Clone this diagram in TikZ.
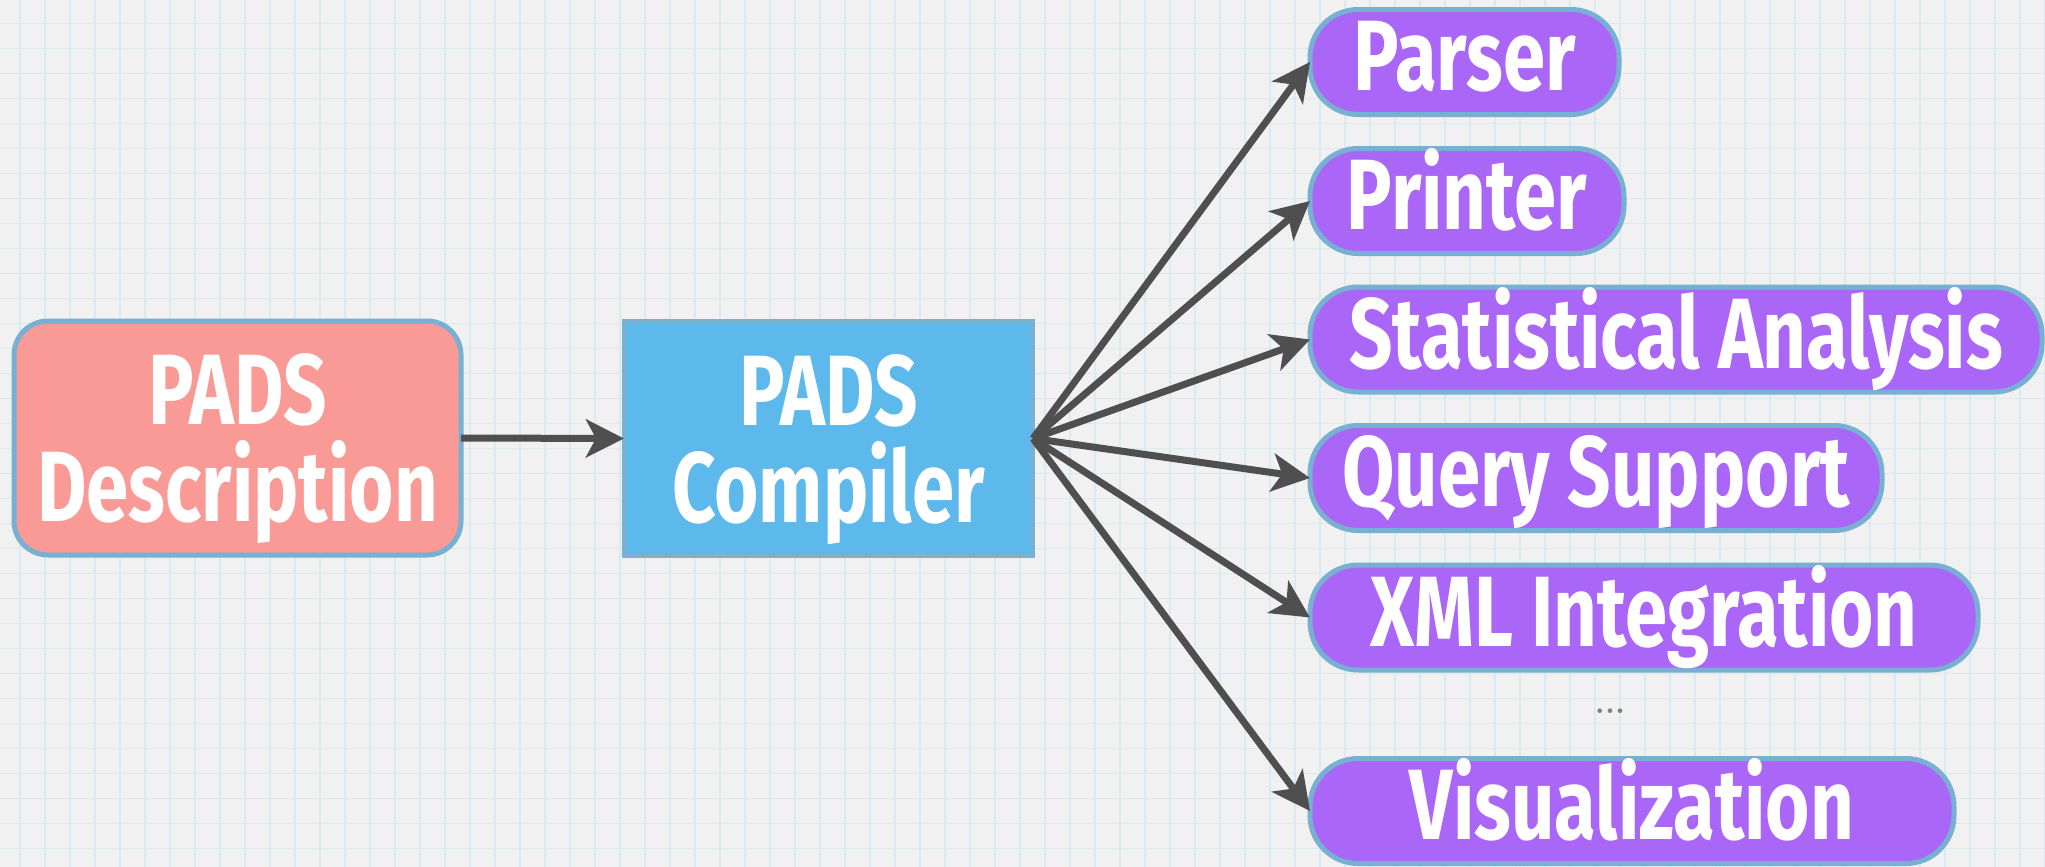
\documentclass[tikz,border=0pt]{standalone}
\usepackage{fontspec}
\usetikzlibrary{arrows.meta}
\newfontfamily\handfont[FakeStretch=0.76]{Fira Sans}
\definecolor{bgcol}{HTML}{F1F1F1}
\definecolor{gridcol}{HTML}{D9EAF0}
\definecolor{pinkfill}{HTML}{F99A96}
\definecolor{bluefill}{HTML}{5DB9EC}
\definecolor{purplefill}{HTML}{A966F7}
\definecolor{edgeblue}{HTML}{78B0D3}
\definecolor{edgeblue2}{HTML}{7BB0CF}
\definecolor{arrowcol}{HTML}{4F4F4F}
\definecolor{dotcol}{HTML}{808080}
\tikzset{
  lbl/.style={text=white, font=\handfont\bfseries\fontsize{50pt}{48.5pt}\selectfont, align=center, inner sep=0pt, outer sep=0pt},
  descbox/.style={lbl, draw=edgeblue, fill=pinkfill, line width=2.5pt, rounded corners=17pt},
  compbox/.style={lbl, draw=edgeblue2, fill=bluefill, line width=2pt},
  toolbox/.style={lbl, draw=edgeblue, fill=purplefill, line width=2.5pt, rounded corners=24pt, minimum height=52.5pt, text height=36pt, text depth=7.5pt},
  conn/.style={draw=arrowcol, line width=3.5pt, -{Stealth[length=19pt, width=19pt, inset=5pt]}}
}
\begin{document}
\begin{tikzpicture}[x=0.5pt, y=-0.5pt]
\useasboundingbox (0,0) rectangle (2045,867);
\fill[bgcol] (0,0) rectangle (2045,867);
\begin{scope}[gridcol, line width=0.9pt]
\foreach \gx in {20,45,...,2045} \draw (\gx,0) -- (\gx,867);
\foreach \gy in {23.5,48.5,...,867} \draw (0,\gy) -- (2045,\gy);
\end{scope}

\node[descbox, minimum width=223.5pt, minimum height=117pt] (desc) at (237.5,438) {\rule{0pt}{46.5pt}PADS\\Description};
\node[compbox, minimum width=204.5pt, minimum height=117.5pt] (comp) at (828.5,438.5) {\rule{0pt}{46.5pt}PADS\\Compiler};

\node[toolbox, minimum width=154.5pt] (parser) at (1464.5,62) {Parser};
\node[toolbox, minimum width=157pt] (printer) at (1467,201) {Printer};
\node[toolbox, minimum width=366pt] (stats) at (1676,339.5) {Statistical Analysis};
\node[toolbox, minimum width=286pt] (query) at (1596,478) {Query Support};
\node[toolbox, minimum width=334pt] (xml) at (1644,617.5) {XML Integration};
\node[toolbox, minimum width=322pt] (vis) at (1632,811) {Visualization};

\node[text=dotcol, font=\bfseries\fontsize{16pt}{16pt}\selectfont, inner sep=0pt] (dots) at (1610,711) {...};

\draw[conn] (desc.east) -- (comp.west);
\draw[conn] (comp.east) -- (parser.west);
\draw[conn] (comp.east) -- (printer.west);
\draw[conn] (comp.east) -- (stats.west);
\draw[conn] (comp.east) -- (query.west);
\draw[conn] (comp.east) -- (xml.west);
\draw[conn] (comp.east) -- (vis.west);
\end{tikzpicture}
\end{document}
